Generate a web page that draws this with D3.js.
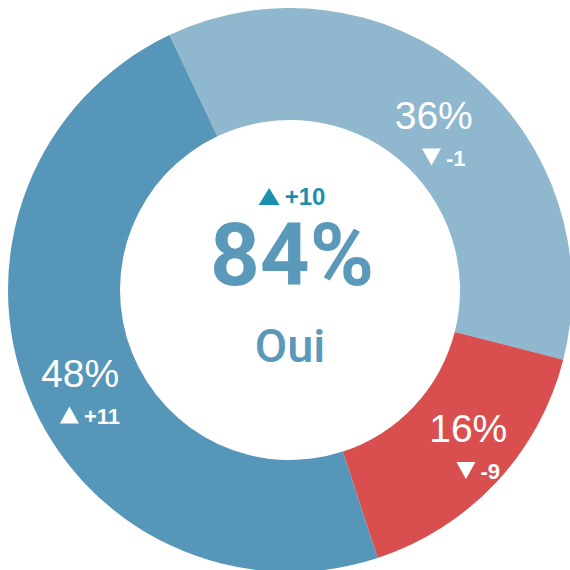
<!DOCTYPE html>
<html>
<head>
<meta charset="utf-8">
<script src="https://cdn.jsdelivr.net/npm/d3@7"></script>
<style>
  body { margin: 0; background: #fff; }
  svg { display: block; }
</style>
</head>
<body>
<svg width="570" height="570"></svg>
<script>
// slices, clockwise from the top-left boundary
const categories = ['Oui, plutôt', 'Non', 'Oui, tout à fait'];
const values = [36, 16, 48];
const deltas = [-1, -9, 11];
const colors = ['#8fb8cf', '#d94f4f', '#5697b9'];

const totalValue = 84;
const totalDelta = 10;
const totalLabel = 'Oui';

const svg = d3.select('svg');
const cx = 290, cy = 290;
const outer = 282, inner = 170;
const start = -25.3 * Math.PI / 180;

const pie = d3.pie().sort(null).startAngle(start).endAngle(start + 2 * Math.PI);
const arcs = pie(values);
const arc = d3.arc().innerRadius(inner).outerRadius(outer);

const g = svg.append('g').attr('transform', `translate(${cx},${cy})`);

g.selectAll('path.slice')
  .data(arcs)
  .join('path')
  .attr('class', 'slice')
  .attr('d', arc)
  .attr('fill', (d, i) => colors[i]);

function tri(up, w, h) {
  return up
    ? `M${-w / 2},${h / 2}L${w / 2},${h / 2}L0,${-h / 2}Z`
    : `M${-w / 2},${-h / 2}L${w / 2},${-h / 2}L0,${h / 2}Z`;
}

// delta group: triangle + signed number, centred on x
function deltaGroup(parent, x, y, v, color, size, tw, th) {
  const grp = parent.append('g');
  const t = grp.append('text')
    .attr('y', 0)
    .attr('font-family', 'Liberation Sans, Arial, sans-serif')
    .attr('font-weight', 'bold')
    .attr('font-size', size + 'px')
    .attr('fill', color)
    .text(v > 0 ? '+' + v : String(v));
  const gap = 5;
  const w = t.node().getComputedTextLength();
  const total = tw + gap + w;
  grp.append('path')
    .attr('d', tri(v > 0, tw, th))
    .attr('transform', `translate(${-total / 2 + tw / 2},${-th / 2})`)
    .attr('fill', color);
  t.attr('x', -total / 2 + tw + gap);
  grp.attr('transform', `translate(${x},${y})`);
  return grp;
}

// small slices get their label pulled a little toward the wider neighbour
const labelArc = d3.arc().innerRadius(inner).outerRadius(outer);
arcs.forEach((d, i) => {
  const span = d.endAngle - d.startAngle;
  const shift = span < 1.2 ? -0.09 : 0;
  const [x, y] = labelArc.centroid({ startAngle: d.startAngle + shift, endAngle: d.endAngle + shift });
  g.append('text')
    .attr('x', x)
    .attr('y', y + 13)
    .attr('text-anchor', 'middle')
    .attr('font-family', 'Liberation Sans, Arial, sans-serif')
    .attr('font-size', '39px')
    .attr('fill', '#fff')
    .text(values[i] + '%');
  deltaGroup(g, x + 10, y + 50, deltas[i], '#fff', 22, 19, 17);
});

// centre
deltaGroup(g, 2, -85, totalDelta, '#1a8fae', 24, 21, 17);

g.append('text')
  .attr('x', 2)
  .attr('y', -5)
  .attr('text-anchor', 'middle')
  .attr('font-family', 'Roboto, sans-serif')
  .attr('font-weight', 'bold')
  .attr('font-size', '87px')
  .attr('fill', '#5a99ba')
  .text(totalValue + '%');

g.append('text')
  .attr('x', 0)
  .attr('y', 72)
  .attr('text-anchor', 'middle')
  .attr('font-family', 'Roboto, sans-serif')
  .attr('font-weight', 500)
  .attr('font-size', '47px')
  .attr('fill', '#5a99ba')
  .text(totalLabel);
</script>
</body>
</html>
